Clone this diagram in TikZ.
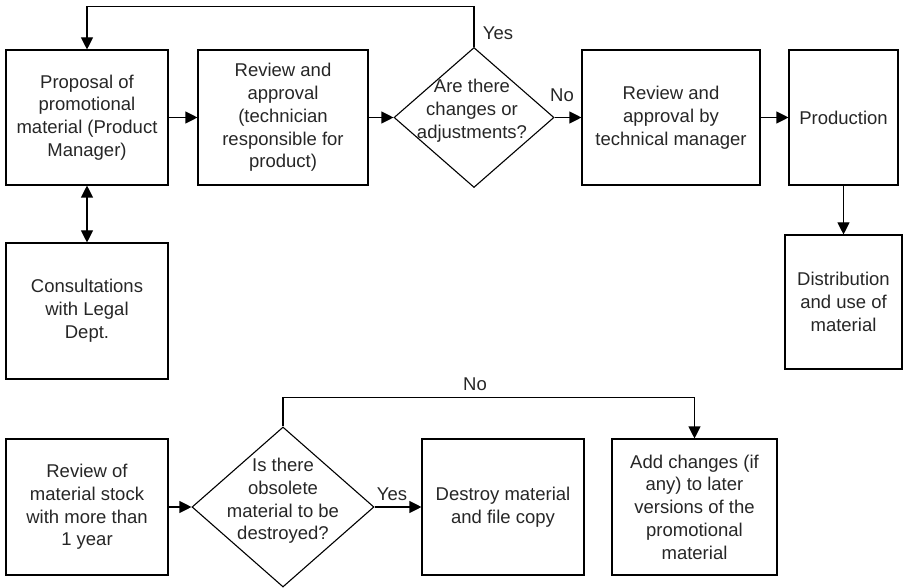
\documentclass[tikz,border=0pt]{standalone}
\usepackage{fontspec}
\setmainfont{Liberation Sans}
\usetikzlibrary{shapes.geometric,arrows.meta}

\begin{document}
\begin{tikzpicture}[x=1pt,y=-1pt,
  txt/.style={font=\fontsize{18.5}{22.8}\selectfont,align=center,text=black!85},
  box/.style={txt,draw,line width=1.1pt,inner sep=2pt},
  dec/.style={draw,diamond,line width=1.1pt,inner sep=0pt},
  tip/.style={line width=1.1pt,-{Triangle[length=12pt,width=12pt]}},
  bitip/.style={line width=1.1pt,{Triangle[length=12pt,width=12pt]}-{Triangle[length=12pt,width=12pt]}}]
\useasboundingbox (0,0) rectangle (905,588);

% top row
\node[box,minimum width=162pt,minimum height=135pt] (prop) at (87,117.5)
  {Proposal of\\promotional\\material (Product\\Manager)};
\node[box,minimum width=170pt,minimum height=135pt] (rev1) at (283,117.5)
  {Review and\\approval\\(technician\\responsible for\\product)};
\node[dec,minimum width=160pt,minimum height=140pt] (d1) at (474,117.5) {};
\node[txt] (d1t) at (472,111) {Are there\\changes or\\adjustments?};
\node[box,minimum width=178pt,minimum height=135pt] (rev2) at (671,117.5)
  {Review and\\approval by\\technical manager};
\node[box,minimum width=109pt,minimum height=135pt] (prod) at (843.5,117.5)
  {Production};
\node[box,minimum width=117pt,minimum height=134pt] (dist) at (843.5,302)
  {Distribution\\and use of\\material};
\node[box,minimum width=162pt,minimum height=136pt] (cons) at (87,311)
  {Consultations\\with Legal\\Dept.};

% bottom row
\node[box,minimum width=162pt,minimum height=136pt] (stock) at (87,507)
  {Review of\\material stock\\with more than\\1 year};
\node[dec,minimum width=182pt,minimum height=160pt] (d2) at (283,507) {};
\node[txt] (d2t) at (283,501) {Is there\\obsolete\\material to be\\destroyed?};
\node[box,minimum width=162pt,minimum height=136pt] (destroy) at (503,507)
  {Destroy material\\and file copy};
\node[box,minimum width=165pt,minimum height=136pt] (addc) at (694.5,507)
  {Add changes (if\\any) to later\\versions of the\\promotional\\material};

% connectors
\draw[tip] (prop) -- (rev1);
\draw[tip] (rev1) -- (d1.west);
\draw[tip] (d1.east) -- (rev2);
\draw[tip] (rev2) -- (prod);
\draw[tip] (prod) -- (dist);
\draw[tip] (d1.north) -- ++(0,-40) -| (prop.north);
\draw[bitip] (prop) -- (cons);
\draw[tip] (stock) -- (d2.west);
\draw[tip] (d2.east) -- (destroy);
\draw[tip] (d2.north) -- ++(0,-29) -| (addc.north);

% branch labels
\node[txt] (yes1) at (498,33) {Yes};
\node[txt] (no1) at (562,95) {No};
\node[txt] (yes2) at (392,494) {Yes};
\node[txt] (no2) at (475,384) {No};
\end{tikzpicture}
\end{document}
